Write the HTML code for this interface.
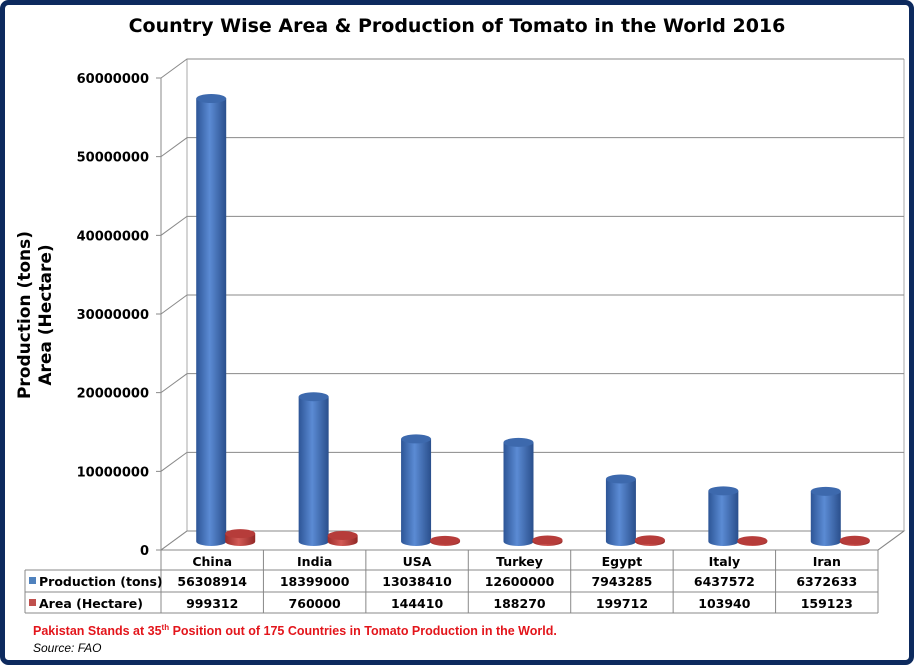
<!DOCTYPE html>
<html><head><meta charset="utf-8"><style>
body{margin:0;background:#fff}
svg{display:block;font-family:"DejaVu Sans","Liberation Sans",sans-serif}
</style></head><body>
<svg id="c" width="914" height="665" viewBox="0 0 914 665">
<defs>
<linearGradient id="gb" x1="0" x2="1" y1="0" y2="0"><stop offset="0" stop-color="#2d5596"/><stop offset="0.45" stop-color="#5b8bd4"/><stop offset="1" stop-color="#2a4f8c"/></linearGradient>
<linearGradient id="gr" x1="0" x2="1" y1="0" y2="0"><stop offset="0" stop-color="#9c2c2a"/><stop offset="0.45" stop-color="#d25a56"/><stop offset="1" stop-color="#922826"/></linearGradient>
</defs>
<rect x="2.5" y="2.5" width="909" height="660" rx="6" fill="#fff" stroke="#0d2a5e" stroke-width="5"/>
<text x="457" y="32" text-anchor="middle" font-size="19" font-weight="bold" fill="#000">Country Wise Area &amp; Production of Tomato in the World 2016</text>
<g id="grid"></g>
<g id="bars"></g>
<g id="table"></g>
<text transform="translate(34,315) rotate(-90)" text-anchor="middle" font-size="17" font-weight="bold"><tspan x="0" dy="-4">Production (tons)</tspan><tspan x="0" dy="21">Area (Hectare)</tspan></text>
<text x="33" y="635" font-size="12.5" font-weight="bold" fill="#e3151b" font-family="Liberation Sans, sans-serif">Pakistan Stands at 35<tspan font-size="8" dy="-5">th</tspan><tspan dy="5"> Position out of 175 Countries in Tomato Production in the World.</tspan></text>
<text x="33" y="652" font-size="12" font-style="italic" font-family="Liberation Sans, sans-serif">Source: FAO</text>
</svg>
<script>
const categories=["China","India","USA","Turkey","Egypt","Italy","Iran"];
const production=[56308914,18399000,13038410,12600000,7943285,6437572,6372633];
const area=[999312,760000,144410,188270,199712,103940,159123];
const ticks=[0,10000000,20000000,30000000,40000000,50000000,60000000];
const NS="http://www.w3.org/2000/svg";
function mk(t,a,p){const e=document.createElementNS(NS,t);for(const k in a)e.setAttribute(k,a[k]);p.appendChild(e);return e;}
const X0=161,X1=878,Y0=550,DX=26,DY=-19,PPU=472/60000000;
const cw=(X1-X0)/categories.length;
const y=v=>Y0-v*PPU;
const grid=document.getElementById('grid');
// back wall + floor
mk('polygon',{points:`${X0},${Y0} ${X0+DX},${Y0+DY} ${X1+DX},${Y0+DY} ${X1},${Y0}`,fill:'#fff',stroke:'#999'},grid);
mk('line',{x1:X0,y1:y(60000000),x2:X0,y2:Y0,stroke:'#888'},grid);
mk('line',{x1:X0+DX,y1:y(60000000)+DY,x2:X0+DX,y2:Y0+DY,stroke:'#aaa'},grid);
mk('line',{x1:X1+DX,y1:y(60000000)+DY,x2:X1+DX,y2:Y0+DY,stroke:'#aaa'},grid);
ticks.forEach(t=>{
 const g=mk('g',{},grid);
 
 
 mk('polyline',{points:`${X0-5},${y(t)} ${X0},${y(t)} ${X0+DX},${y(t)+DY} ${X1+DX},${y(t)+DY}`,fill:'none',stroke:'#8a8a8a'},g);
 const tx=mk('text',{x:X0-12,y:y(t)+5,'text-anchor':'end','font-size':13,'font-weight':'bold'},g);
 tx.textContent=t;
 
 
});
const bars=document.getElementById('bars');
function cyl(cx,v,fill,top,name){
 const r=15,ry=4.5,base=Y0+DY/2+1,ty=base-v*PPU;
 const g=mk('g',{},bars);
 
 
 mk('path',{d:`M${cx-r},${ty} L${cx-r},${base} A${r},${ry} 0 0 0 ${cx+r},${base} L${cx+r},${ty} Z`,fill:fill},g);
 mk('ellipse',{cx:cx,cy:ty,rx:r,ry:ry,fill:top},g);
}
categories.forEach((c,i)=>{
 const cx=X0+cw*(i+0.5);
 cyl(cx-1,production[i],'url(#gb)','#3d69ad','bar-production-'+c.toLowerCase());
 cyl(cx+28,area[i],'url(#gr)','#b63c3a','bar-area-'+c.toLowerCase());
});
const tb=document.getElementById('table');
const rows=[550,570,592,613];
mk('line',{x1:X0,y1:Y0,x2:X1,y2:Y0,stroke:'#888'},tb);
mk('line',{x1:X1,y1:Y0,x2:X1+DX,y2:Y0+DY,stroke:'#888'},tb);
[570,592,613].forEach(yy=>mk('line',{x1:25,y1:yy,x2:X1,y2:yy,stroke:'#888'},tb));
mk('line',{x1:25,y1:570,x2:25,y2:613,stroke:'#888'},tb);
for(let i=0;i<=categories.length;i++){const xx=X0+cw*i;mk('line',{x1:xx,y1:550,x2:xx,y2:613,stroke:'#888'},tb);}
const series=[["Production (tons)",production,'#4f81bd'],["Area (Hectare)",area,'#c0504d']];
categories.forEach((c,i)=>{
 const t=mk('text',{x:X0+cw*(i+0.5),y:566,'text-anchor':'middle','font-size':12.5,'font-weight':'bold'},tb);
 t.textContent=c;
 
 
});
series.forEach((s,r)=>{
 const yy=rows[r+1];
 mk('rect',{x:29,y:yy+7,width:7,height:7,fill:s[2]},tb);
 const l=mk('text',{x:39,y:yy+16,'font-size':12.5,'font-weight':'bold'},tb);
 l.textContent=s[0];
 
 
 s[1].forEach((v,i)=>{
  const t=mk('text',{x:X0+cw*(i+0.5),y:yy+16,'text-anchor':'middle','font-size':12.5,'font-weight':'bold'},tb);
  t.textContent=v;
  
  
 });
});
</script>
</body></html>
